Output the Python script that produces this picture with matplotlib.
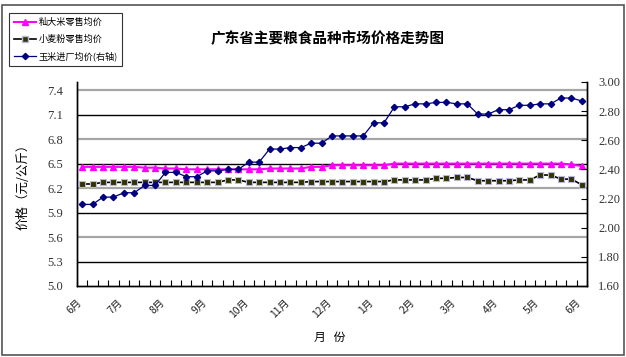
import matplotlib
matplotlib.use('Agg')
import matplotlib.pyplot as plt
from matplotlib.patches import Rectangle
from matplotlib.transforms import ScaledTranslation
from matplotlib.lines import Line2D

plt.rcParams['font.family'] = ['Noto Sans CJK SC', 'DejaVu Sans']

# ---------------- data ----------------
month_labels = ['6月', '7月', '8月', '9月', '10月', '11月', '12月',
                '1月', '2月', '3月', '4月', '5月', '6月']

rice = [6.46, 6.46, 6.46, 6.46, 6.46, 6.46, 6.45, 6.45, 6.44, 6.44,
        6.43, 6.43, 6.43, 6.43, 6.43, 6.43, 6.43, 6.43, 6.44, 6.44,
        6.44, 6.44, 6.46, 6.46, 6.48, 6.48, 6.48, 6.48, 6.48, 6.48,
        6.50, 6.50, 6.50, 6.50, 6.50, 6.50, 6.50, 6.50, 6.50, 6.50,
        6.50, 6.50, 6.50, 6.50, 6.50, 6.50, 6.50, 6.49, 6.47]

flour = [6.25, 6.25, 6.27, 6.27, 6.27, 6.27, 6.27, 6.27, 6.27, 6.27,
         6.27, 6.27, 6.27, 6.27, 6.30, 6.30, 6.27, 6.27, 6.27, 6.27,
         6.27, 6.27, 6.28, 6.28, 6.28, 6.28, 6.28, 6.28, 6.28, 6.28,
         6.30, 6.30, 6.30, 6.30, 6.32, 6.32, 6.33, 6.33, 6.29, 6.29,
         6.29, 6.29, 6.30, 6.30, 6.36, 6.36, 6.31, 6.31, 6.24]

corn = [2.16, 2.16, 2.21, 2.21, 2.24, 2.24, 2.29, 2.29, 2.38, 2.38,
        2.35, 2.35, 2.39, 2.39, 2.40, 2.40, 2.45, 2.45, 2.54, 2.54,
        2.55, 2.55, 2.58, 2.58, 2.63, 2.63, 2.63, 2.63, 2.72, 2.72,
        2.83, 2.83, 2.85, 2.85, 2.86, 2.86, 2.85, 2.85, 2.78, 2.78,
        2.81, 2.81, 2.84, 2.84, 2.85, 2.85, 2.89, 2.89, 2.87]

series_names = ['籼大米零售均价', '小麦粉零售均价', '玉米进厂均价(右轴)']
left_ticks = [5.0, 5.3, 5.6, 5.9, 6.2, 6.5, 6.8, 7.1, 7.4]
right_ticks = [1.6, 1.8, 2.0, 2.2, 2.4, 2.6, 2.8, 3.0]

# ---------------- figure ----------------
W, H = 626, 357
fig = plt.figure(figsize=(W / 100, H / 100), dpi=100)
fig.patch.set_facecolor('white')

L, R, T, B = 77, 587, 82, 286
ax = fig.add_axes([L / W, 1 - B / H, (R - L) / W, (B - T) / H])
ax2 = ax.twinx()

n = len(rice)
x = list(range(n))

ax.set_xlim(-0.5, n - 0.5)
ax.set_ylim(5.0, 7.5)
ax2.set_ylim(1.6, 3.0)

# alternating grid lines
for k, t in enumerate(left_ticks[1:]):
    col = '#000000' if k % 2 == 0 else '#a6a6a6'
    lw = 1.0 if k % 2 == 0 else 1.6
    ax.axhline(t, color=col, lw=lw, zorder=1)

ax.plot(x, rice, color='#ff00ff', lw=1.5, marker='^', ms=4.6,
        mfc='#ff00ff', mec='#ff00ff', zorder=4)
ax.plot(x, flour, color='#000000', lw=1.2, marker='s', ms=3.8,
        mfc='#333300', mec='#b8b8e0', mew=0.8, zorder=4)
ax2.plot(x, corn, color='#000080', lw=0.9, marker='D', ms=3.2,
         mfc='#000080', mec='#000080', zorder=4)

# ticks
ax.set_yticks(left_ticks)
ax.set_yticklabels(['%.1f' % t for t in left_ticks])
ax.tick_params(axis='y', length=0, pad=10, labelsize=9, labelcolor='#333333')
for lab in ax.get_yticklabels():
    lab.set_family('Liberation Serif')

ax2.set_yticks(right_ticks)
ax2.set_yticklabels(['%.2f' % t for t in right_ticks])
ax2.tick_params(axis='y', direction='in', length=4, width=0.8, pad=8,
                labelsize=9, labelcolor='#333333')
for lab in ax2.get_yticklabels():
    lab.set_family('Liberation Serif')

label_pos = [i * 4 for i in range(len(month_labels))]
ax.set_xticks(label_pos)
ax.set_xticklabels(month_labels, rotation=45, ha='right', va='top',
                   rotation_mode='anchor', fontsize=7.5, color='#222222')
ax.tick_params(axis='x', length=0, pad=8)
offset = ScaledTranslation(-6 / 100, 0, fig.dpi_scale_trans)
for lab in ax.get_xticklabels():
    lab.set_transform(lab.get_transform() + offset)
ax.set_xticks([i - 0.5 for i in range(n + 1)], minor=True)
ax.tick_params(axis='x', which='minor', direction='in', length=4, width=0.8)

for a in (ax, ax2):
    a.spines['top'].set_visible(False)
    for s in ('left', 'right', 'bottom'):
        a.spines[s].set_color('#000000')
        a.spines[s].set_linewidth(1.0)

# texts
fig.text(328 / W, 1 - 38 / H, '广东省主要粮食品种市场价格走势图', ha='center',
         va='center', fontsize=10.5, fontweight='bold', color='#000000')
fig.text(23 / W, 1 - 184 / H, '价格（元/公斤）', rotation=90, ha='center',
         va='center', fontsize=9, color='#000000')
fig.text(330 / W, 1 - 337 / H, '月   份', ha='center', va='center',
         fontsize=8.5, color='#000000')

# legend
handles = [
    Line2D([], [], color='#ff00ff', lw=1.5, marker='^', ms=4.5, mfc='#ff00ff', mec='#ff00ff'),
    Line2D([], [], color='#000000', lw=1.2, marker='s', ms=3.8, mfc='#333300', mec='#b8b8e0'),
    Line2D([], [], color='#000080', lw=0.9, marker='D', ms=3.2, mfc='#000080', mec='#000080'),
]
leg = fig.legend(handles, series_names, loc='upper left',
                 bbox_to_anchor=(9 / W, 1 - 13 / H),
                 fontsize=6.6, frameon=True, fancybox=False,
                 borderaxespad=0, handlelength=2.4, handletextpad=0.3,
                 labelspacing=0.85, borderpad=0.5)
leg.get_frame().set_edgecolor('#000000')
leg.get_frame().set_linewidth(0.8)

# outer border
fig.patches.append(Rectangle((2 / W, 1 - 355 / H), 622 / W, 350 / H,
                             transform=fig.transFigure, fill=False,
                             edgecolor='#555555', lw=1.2))

fig.savefig('out.png', dpi=100)
